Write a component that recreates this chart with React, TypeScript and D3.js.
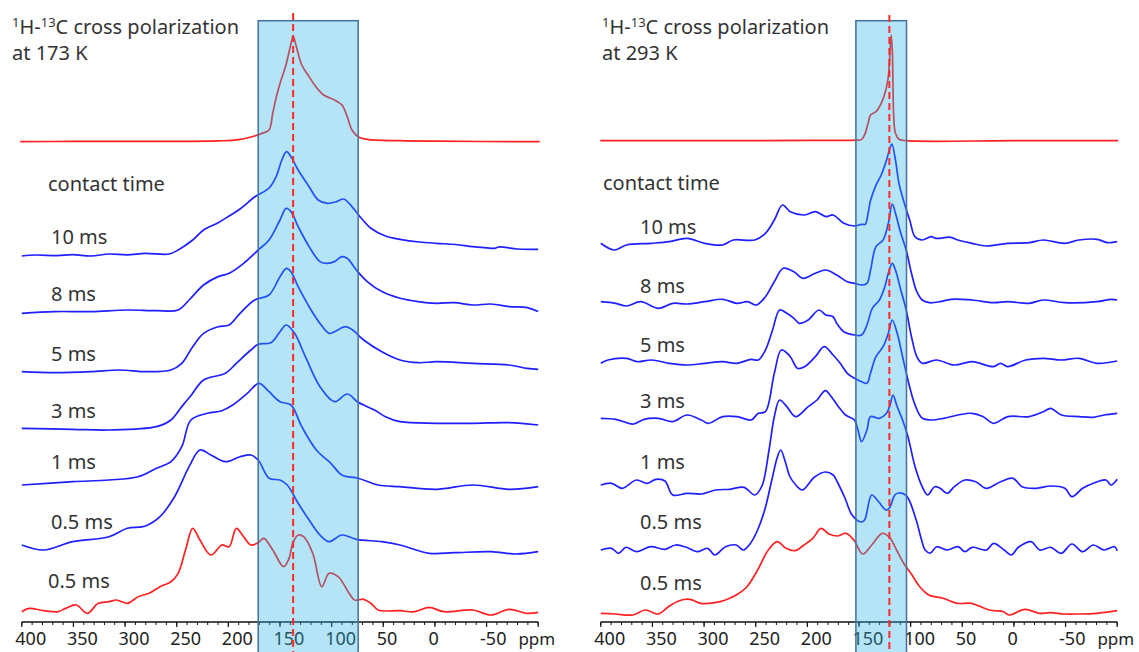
import React, { useEffect } from "react";
import * as d3 from "d3";

const W = 1139;
const H = 652;

// ---------- axis ticks ----------
const majorTicks = [400, 350, 300, 250, 200, 150, 100, 50, 0, -50, -100];
const tickLabels = ["400", "350", "300", "250", "200", "150", "100", "50", "0", "-50"];
const minorTicks = d3.range(400, -101, -10);
const contactLabels = ["10 ms", "8 ms", "5 ms", "3 ms", "1 ms", "0.5 ms", "0.5 ms"];

// ---------- 173 K spectra: [ppm, intensity] ----------
const L_top: [number, number][] = [
  [401.5, 0], [350, 0.3], [280, 0.3], [210, 0.8], [190, 2], [174.6, 5.7], [167.6, 8.3], [160.6, 11.7],
  [157, 28.7], [153.5, 45], [150, 58.3], [144.7, 75], [140, 95], [137.3, 105.7], [134.2, 95],
  [128.9, 76.7], [121.8, 65], [114.8, 54.3], [107.7, 46.7], [97.2, 41.7], [90, 36.7], [84.9, 25],
  [80.3, 11.7], [74.3, 5], [65.5, 2.3], [33.8, 1], [0, 0.5], [-101.5, 0],
];
const L_10: [number, number][] = [
  [400, 0], [385.9, 1], [366, 0.3], [350.7, 1.3], [333, 0], [315.5, 2], [298, 1.2], [280.3, 2.7], [257.4, 2],
  [248.6, 6], [234.5, 16], [224, 26], [209.9, 33.3], [199.3, 40], [188.7, 47], [174.6, 59],
  [160.6, 68], [153.5, 80], [148.2, 96], [143.7, 104.3], [139.4, 99.3], [132.4, 86], [121.8, 69.3],
  [113, 56], [104.2, 52.7], [95.4, 54.3], [88.4, 57], [83.1, 52.7], [72.5, 39.3], [62, 27.7],
  [47.9, 20], [33.8, 16.7], [15, 14], [-1.4, 12.7], [-20, 11.5], [-36.6, 9.3], [-50, 8.2], [-57.7, 7.7], [-62, 9], [-80, 7], [-100, 6.7],
];
const L_8: [number, number][] = [
  [400, 0], [368.3, 1.7], [333.1, 1.7], [297.9, 3.3], [269.7, 2.7], [248.6, 3.3], [238, 13.3],
  [224, 28.3], [209.9, 36.7], [199.3, 40], [185.2, 50], [171.1, 63.3], [160.6, 73.3], [150, 93.3],
  [144, 105], [139.4, 101.7], [132.4, 86.7], [121.8, 66.7], [111.3, 51.7], [104.2, 50], [97.2, 51.7],
  [90.1, 56.7], [84.9, 55], [76.1, 43.3], [65.5, 31.7], [51.4, 21.7], [33.8, 15], [16.2, 11.7],
  [-1.4, 10], [-19, 10.7], [-36.6, 8.3], [-54.2, 9.3], [-71.8, 6.7], [-89.4, 5.7], [-100, 1.7],
];
const L_5: [number, number][] = [
  [400, 0], [368.3, -1], [333.1, 0], [304.9, 1.7], [280.3, 0], [255.6, 1.7], [245.1, 8.3], [234.5, 25],
  [224, 38.3], [209.9, 45], [199.3, 46.7], [188.7, 58.3], [174.6, 71.7], [160.6, 76.7], [150, 95],
  [143.7, 103.3], [139.4, 100], [132.4, 85], [121.8, 65], [111.3, 48.3], [102.5, 38.3], [97.2, 40],
  [86.6, 45], [79.6, 41.7], [69, 31.7], [51.4, 20], [33.8, 11.7], [16.2, 9], [-1.4, 10], [-36.6, 8.3],
  [-71.8, 6.7], [-89.4, 3.3], [-100, 2.3],
];
const L_3: [number, number][] = [
  [400, 0], [350.7, -1], [315.5, -1.7], [269.7, 1.7], [255.6, 8.3], [245.1, 21.7], [236, 33],
  [224, 48.3], [202.8, 55], [192.3, 65], [178.2, 78.3], [171.1, 84], [158.8, 85.6], [150, 96.6],
  [144, 103.3], [135.9, 95], [125.4, 71.6], [111.3, 41.6], [97.2, 26.6], [84.9, 34.3], [74.3, 26],
  [58.5, 18.3], [47.9, 11.6], [33.8, 6.6], [-1.4, 5], [-36.6, 5], [-71.8, 5.6], [-100, 3.3],
];
const L_1: [number, number][] = [
  [400, 0], [350.7, 3.3], [315.5, 5], [287.3, 8.3], [269.7, 16.7], [255.6, 23.3], [245.1, 38.3],
  [236.3, 65], [220.4, 71.7], [206.3, 74.3], [195.8, 80], [181.7, 91.7], [170.4, 101.7], [160.6, 93.3],
  [150, 83.3], [139.4, 80], [128.9, 58.3], [114.8, 35], [100.7, 21.7], [90.1, 10], [74.3, 6.7],
  [54.9, 0], [33.8, -1.7], [-1.4, -4.3], [-36.6, 0], [-71.8, -4.3], [-100, -1.7],
];
const L_05b: [number, number][] = [
  [400, 0], [378.9, -5], [350.7, 3.3], [315.5, 8.3], [297.9, 16.7], [280.3, 19], [266.2, 28.3],
  [252.1, 48.3], [238, 78.3], [227.5, 95], [216.9, 90], [202.8, 83.3], [188.7, 88.3], [178.2, 90],
  [171.1, 85], [160.6, 66.7], [150, 65], [143, 60], [132.4, 41.7], [121.8, 25], [111.3, 10],
  [102.5, 3.3], [90.1, 10], [76.1, 5.7], [51.4, 3.3], [33.8, 0], [5.6, -8.3], [-19, -7.7],
  [-54.2, -6.7], [-78.9, -9], [-100, -6.7],
];
const L_05r: [number, number][] = [
  [400, 0], [393, 3.3], [378.9, 1], [364.8, 0], [357.7, 3.3], [347.2, 6.7], [336.6, -1.7], [326, 8.4],
  [315.5, 10], [308.5, 11.7], [297.9, 8.4], [287.3, 15], [276.8, 18.4], [266.2, 25], [255.6, 30],
  [248.6, 38.4], [241.5, 61.7], [234.5, 83.4], [227.5, 71.7], [216.9, 56.7], [206.3, 66.7],
  [199.3, 65], [192.3, 83.4], [185.2, 75], [178.2, 66.7], [171.1, 69], [165.8, 73.4], [157, 61.7],
  [146.5, 45], [141.2, 53.4], [137.7, 68.4], [132.4, 76.7], [127.1, 75], [118.3, 58.4], [109.5, 25],
  [102.5, 38.4], [93.7, 35], [83.1, 18.4], [77.8, 11.7], [69, 12.4], [62, 8.4], [54.9, 1.7],
  [33.8, 1], [19.7, 0], [5.6, 4.4], [-8.5, 0], [-36.6, 1.7], [-54.2, -3.3], [-71.8, 2.4],
  [-89.4, -1.7], [-100, -0.6],
];

// ---------- 293 K spectra: [ppm, intensity] ----------
const R_top: [number, number][] = [
  [400.5, 0], [300, 0], [200, 0.3], [160, 0.3], [152.6, 0.5], [147.4, 1.3], [144, 7.4], [141.2, 17.4],
  [138.8, 25.7], [133.6, 29], [128.5, 37.4], [124, 50.7], [121.6, 64], [119.9, 90.7], [118.9, 105.7],
  [117.8, 90.7], [117.1, 57.4], [116.4, 24], [114.7, 7.4], [111.2, 1.4], [104.4, 0], [0, 0], [-101, 0],
];
const R_10: [number, number][] = [
  [400, 0], [387.3, -6.7], [375.2, -1.7], [351.1, 0], [333.8, 1.7], [316.5, 5], [299.3, 0], [282, -1.7],
  [271.7, 3.3], [250.9, 3.3], [240.6, 10], [232, 23.3], [224.1, 38.3], [216.5, 31.6], [202.7, 28.3],
  [192.3, 31.6], [182, 26.6], [175.1, 28.3], [164.7, 20], [154.4, 17.3], [147.5, 19], [144, 19],
  [141.2, 30], [138.8, 43], [133.6, 58], [128.5, 68.3], [123.3, 83.3], [120.6, 93.3], [118.2, 99.3],
  [114.7, 83.3], [111.3, 60], [106.1, 40], [100.9, 23.3], [95.8, 6.6], [88.9, 3.3], [80.2, 6.6],
  [75.1, 5], [61.3, 6], [54.4, 3.3], [40.6, 0], [26.8, -2.7], [6.1, 0], [-14.6, 0.6], [-28.4, 3.3],
  [-49.1, 0], [-62.9, 3.3], [-80.4, 4], [-90.8, 0.6], [-100, 1.6],
];
const R_8: [number, number][] = [
  [400, 0], [385.6, -1.6], [375.2, -4.3], [361.4, 0], [344.1, -6.6], [330.3, -1.6], [316.5, -2.3],
  [299.3, 0], [282, 2.4], [268.2, -1.6], [257.9, 0], [249.3, -3.3], [240.6, 5], [232, 20], [223.4, 33.4],
  [213, 30], [204.4, 23.4], [192.3, 28.4], [182, 31.7], [171.6, 26.7], [161.3, 20], [154.4, 18.4],
  [147.5, 16.7], [142.3, 18.4], [138.8, 31.7], [133.6, 55], [126.7, 61.7], [121.6, 78.4], [117.8, 97.7],
  [114.7, 88.4], [109.5, 68.4], [104.3, 51.7], [99.2, 28.4], [94, 10], [88.8, 1.7], [81.9, -1],
  [71.6, 0], [61.2, 2.4], [40.5, 1.7], [19.8, -1], [6, 0], [-14.7, -1.6], [-28.5, 1.7], [-49.2, -1],
  [-80.3, 0], [-94.1, 2.4], [-100, 1.7],
];
const R_5: [number, number][] = [
  [400, 0], [393.1, 3.3], [375.2, 5], [364.8, 1.6], [351, 3.3], [333.8, 0], [316.5, -1.7], [299.3, 0],
  [282, 1.6], [268.2, 0], [254.4, 4], [247.5, 3.3], [240.6, 13.3], [233.7, 33.3], [226.8, 53.3],
  [219.9, 50], [213, 45], [207.8, 40], [199.2, 43.3], [188.9, 53.3], [182, 48.3], [175.1, 46.6],
  [171.6, 40], [164.7, 31.6], [154.4, 28.3], [147.5, 28.3], [142.3, 38.3], [137.1, 55], [130.2, 63.3],
  [125, 76.6], [121.6, 90], [117.8, 100], [114.7, 93.3], [109.5, 73.3], [104.3, 53.3], [99.2, 26.6],
  [94, 6.6], [88.8, 0], [75, 3.3], [57.8, -1.7], [40.5, 1.6], [19.8, -3.3], [12.9, 0], [6, -3.3],
  [-11.3, 3.3], [-28.5, 5], [-45.8, 3.3], [-63.1, 5], [-80.3, 0], [-100, 2.3],
];
const R_3: [number, number][] = [
  [400, 0], [385.6, -1], [375.2, -4.3], [368.3, -5.7], [358, -1], [344.1, 0], [330.3, -3.3], [316.5, 3.3],
  [302.7, -1.7], [295.8, -5], [282, 1.7], [268.2, 1.7], [254.4, -1.7], [247.5, 5], [240.6, 6.6],
  [232, 45], [225.1, 68.3], [216.5, 61.6], [209.6, 50], [202.7, 51.6], [192.3, 61.6], [183.7, 71.6],
  [175.1, 63.3], [168.2, 55], [161.3, 45], [154.4, 40], [147.5, 36.6], [142.3, 35], [138.9, 45],
  [133.6, 61.6], [126.7, 71.6], [121.6, 85], [117.8, 98.3], [113, 85], [107.8, 61.6], [102.6, 38.3],
  [97.4, 18.3], [92.2, 5], [88.7, 0], [80.1, -1.7], [68, 0], [54.2, 3.3], [40.4, 5], [30.1, 1.7],
  [19.7, -5], [5.9, 1.7], [-14.8, 1.7], [-28.6, 6.6], [-35.5, 10], [-45.9, 3.3], [-63.2, 1.7],
  [-77, 1], [-87.3, 3.3], [-100, 5],
];
const R_1: [number, number][] = [
  [400, 0], [389.6, 1.7], [379.3, -3.3], [365.5, 5], [355.1, 1.7], [346.5, 5.7], [337.9, 4], [330.3, -10],
  [316.5, -8.3], [302.7, -9], [288.9, -5], [275.1, -4.3], [261.3, -2.3], [250.9, -10], [244, -1],
  [237.1, 35], [232, 68.3], [226.8, 85], [219.9, 78.3], [211.3, 68.3], [199.2, 78.3], [190.6, 85],
  [182.6, 94.3], [176.8, 88.3], [169.9, 78.3], [163, 70], [154.4, 65], [151, 55], [147.5, 43.3],
  [142.3, 55], [138.9, 68.3], [130.2, 66.7], [123.3, 71.7], [119.9, 80], [117.1, 90], [113, 78.3],
  [107.8, 65], [102.6, 48.3], [95.7, 18.3], [88.8, -1.7], [83.6, -10], [76.7, -1.7], [71.5, -3.3],
  [64.6, -8.3], [57.7, -1.7], [47.4, 5], [37, 3.3], [26.7, -3.3], [12.9, 3.3], [0.8, 6.7], [-7.9, -1.7],
  [-21.7, -3.3], [-35.5, -1], [-49.3, -3.3], [-56.2, -11.7], [-66.5, -3.3], [-76.9, 1.7], [-89, 5],
  [-94.1, 0], [-100, 5.7],
];
const R_05b: [number, number][] = [
  [400, 0], [389.6, 1.7], [382.7, -3.3], [375.8, 2.7], [365.5, -1.7], [351.7, 3.3], [337.9, 0.7],
  [327.5, 5], [317.2, 2.7], [306.8, -1.7], [296.5, 1.7], [289.6, -5], [279.2, 3.3], [268.9, 5], [262, 0],
  [255.1, 6.7], [248.2, 20], [241.3, 40], [234.4, 70], [229.3, 92], [225.8, 100], [221.3, 88],
  [217.2, 74], [212, 66], [205.1, 60], [193, 73], [182.6, 78], [175, 75], [170.5, 67], [163.6, 52],
  [156.7, 35], [148, 28], [144.6, 30], [137.7, 55], [130.8, 48], [123.9, 40], [120.5, 42], [115.3, 55],
  [111.8, 57], [104.9, 55], [101.5, 50], [94.6, 30], [89.4, 10], [86, 0], [80.8, -3], [74.9, 3.3],
  [64.5, 0], [54.2, 3.3], [47.3, -1.7], [40.4, 2.7], [26.6, 0], [19.7, 6.7], [9.4, 0], [2.5, -5],
  [-4.4, 2.7], [-16.5, 8.3], [-25.1, 0], [-35.5, 2.7], [-45.8, -3.3], [-56.2, 6], [-66.5, -1.7],
  [-76.9, 5], [-87.3, 0], [-97.6, 3.3], [-100, -0.7],
];
const R_05r: [number, number][] = [
  [400, 0], [386.2, -0.7], [369, -1.7], [356.9, 3.3], [344.8, -0.7], [334.5, 6.6], [324.1, 12.6],
  [313.8, 14], [303.4, 10], [289.6, 10.6], [279.2, 13.3], [268.9, 18.3], [258.5, 26.6], [248.2, 43.3],
  [237.8, 63.3], [229.2, 71.6], [220.6, 65], [211.9, 62.6], [203.3, 68.3], [194.7, 75], [186.7, 85],
  [179.1, 79.3], [170.5, 77.3], [162.6, 80], [155, 73.3], [146.4, 59.3], [137.7, 68.3], [127.4, 80],
  [120.5, 76], [113.6, 63.3], [106.7, 50], [99.8, 40], [91.2, 26.6], [82.5, 18.3], [68.7, 15],
  [54.9, 10], [41.1, 10], [23.8, 3.3], [10, 1.6], [4.8, -1.7], [-10.7, 4], [-24.5, 0], [-34.9, 0.6],
  [-48.7, -0.7], [-62.5, -0.7], [-79.8, 0], [-100, 2.6],
];

// ---------- layout (positions/styles) ----------
const BLUE = "#1f1fff";
const RED = "#ff2020";
const FONT = "'Noto Sans', 'Liberation Sans', Arial, sans-serif";
const AXIS_Y = 622;

type Trace = { data: [number, number][]; color: string; base: number };
type PanelCfg = {
  xRange: [number, number];
  temp: string;
  titleX: number;
  contactX: number;
  labelX: number[];
  labelY: number[];
  contactY: number;
  traces: Trace[];
  band: [number, number];
  dashed: number;
  dashTop: number;
};

const panels: PanelCfg[] = [
  {
    xRange: [21.8, 538.2],
    temp: "at 173 K",
    titleX: 12,
    contactX: 48,
    labelX: [51, 51, 51, 51, 51, 51, 48],
    labelY: [244, 301, 361, 418, 469, 529, 588],
    contactY: 191,
    traces: [
      { data: L_top, color: RED, base: 141.7 },
      { data: L_10, color: BLUE, base: 256 },
      { data: L_8, color: BLUE, base: 313.3 },
      { data: L_5, color: BLUE, base: 371.7 },
      { data: L_3, color: BLUE, base: 428.3 },
      { data: L_1, color: BLUE, base: 485 },
      { data: L_05b, color: BLUE, base: 545 },
      { data: L_05r, color: RED, base: 611.7 },
    ],
    band: [171.1, 74.3],
    dashed: 137.3,
    dashTop: 13,
  },
  {
    xRange: [600.8, 1117.2],
    temp: "at 293 K",
    titleX: 602,
    contactX: 603,
    labelX: [640, 640, 640, 640, 640, 640, 640],
    labelY: [234, 293, 352, 408, 469, 529, 590],
    contactY: 190,
    traces: [
      { data: R_top, color: RED, base: 140.7 },
      { data: R_10, color: BLUE, base: 243.3 },
      { data: R_8, color: BLUE, base: 301.7 },
      { data: R_5, color: BLUE, base: 363.3 },
      { data: R_3, color: BLUE, base: 418.3 },
      { data: R_1, color: BLUE, base: 485 },
      { data: R_05b, color: BLUE, base: 550 },
      { data: R_05r, color: RED, base: 613.3 },
    ],
    band: [153, 104],
    dashed: 120.6,
    dashTop: 15,
  },
];

function Panel({ cfg }: { cfg: PanelCfg }) {
  const x = d3.scaleLinear().domain([400, -100]).range(cfg.xRange);
  const xb0 = x(cfg.band[0]);
  const xb1 = x(cfg.band[1]);
  return (
    <g>
      {/* title */}
      <text x={cfg.titleX} y={34} fontSize={20} fill="#333" fontFamily={FONT}>
        <tspan fontSize={13} dy={-7}>1</tspan>
        <tspan fontSize={20} dy={7}>H-</tspan>
        <tspan fontSize={13} dy={-7}>13</tspan>
        <tspan fontSize={20} dy={7}>C cross polarization</tspan>
      </text>
      <text x={cfg.titleX} y={60} fontSize={20} fill="#333" fontFamily={FONT}>{cfg.temp}</text>
      <text x={cfg.contactX} y={cfg.contactY} fontSize={20} fill="#333" fontFamily={FONT}>contact time</text>
      {contactLabels.map((l, i) => (
        <text key={i} x={cfg.labelX[i]} y={cfg.labelY[i]} fontSize={20} fill="#333" fontFamily={FONT}>{l}</text>
      ))}
      {/* spectra */}
      {cfg.traces.map((t, i) => {
        const y = d3.scaleLinear().domain([0, 100]).range([t.base, t.base - 100]);
        const line = d3
          .line<[number, number]>()
          .x((d) => x(d[0]))
          .y((d) => y(d[1]))
          .curve(d3.curveCatmullRom.alpha(0.5));
        return <path key={i} d={line(t.data) || ""} fill="none" stroke={t.color} strokeWidth={1.7} strokeLinejoin="round" />;
      })}
      {/* axis */}
      <line x1={x(400)} x2={x(-100)} y1={AXIS_Y} y2={AXIS_Y} stroke="#111" strokeWidth={1.4} />
      {minorTicks.map((v) => (
        <line key={"m" + v} x1={x(v)} x2={x(v)} y1={AXIS_Y} y2={AXIS_Y + 3} stroke="#111" strokeWidth={1} />
      ))}
      {majorTicks.map((v) => (
        <line key={"M" + v} x1={x(v)} x2={x(v)} y1={AXIS_Y} y2={AXIS_Y + 5} stroke="#111" strokeWidth={1.2} />
      ))}
      {tickLabels.map((l, i) => (
        <text key={"t" + l} x={x(majorTicks[i]) - 6.5} y={645} fontSize={18} fill="#222" fontFamily={FONT}>{l}</text>
      ))}
      <text x={x(-100) + 17} y={645} fontSize={17} fill="#222" fontFamily={FONT} textAnchor="end">ppm</text>
      {/* highlighted band (semi-transparent overlay) */}
      <rect x={xb0} y={20.7} width={xb1 - xb0} height={H - 20.7} fill="#29B2E5" fillOpacity={0.35} />
      <rect x={xb0} y={20.7} width={xb1 - xb0} height={H - 20.7 + 5} fill="none" stroke="#41719C" strokeWidth={1.5} />
      <line x1={x(cfg.dashed)} x2={x(cfg.dashed)} y1={cfg.dashTop} y2={H} stroke="#ff2a2a" strokeWidth={2} strokeDasharray="7,4" />
    </g>
  );
}

export default function App() {
  useEffect(() => {
    document.body.style.margin = "0";
  }, []);
  return (
    <svg width={W} height={H} viewBox={`0 0 ${W} ${H}`} style={{ display: "block", position: "absolute", left: 0, top: 0, background: "#fff" }}>
      <rect x={0} y={0} width={W} height={H} fill="#fff" />
      {panels.map((p, i) => (
        <Panel key={i} cfg={p} />
      ))}
    </svg>
  );
}
